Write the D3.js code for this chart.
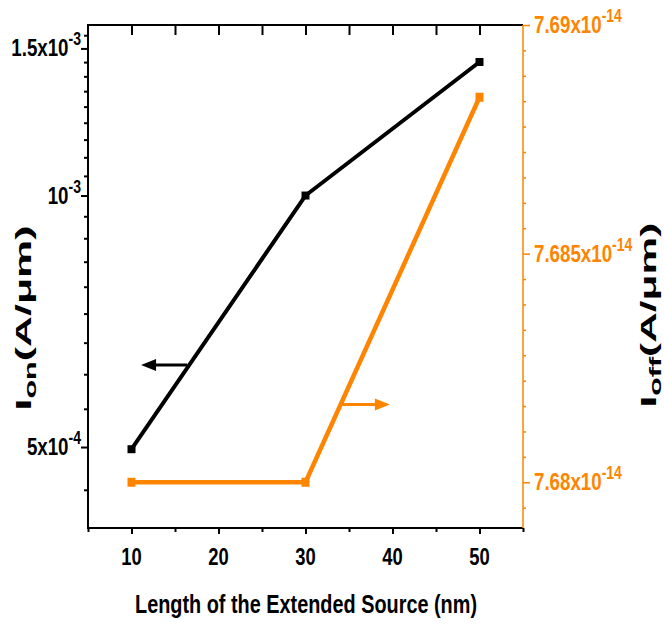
<!DOCTYPE html>
<html>
<head>
<meta charset="utf-8">
<script src="https://cdn.jsdelivr.net/npm/d3@7"></script>
<style>
  body { margin: 0; background: #fff; }
  text { font-family: "Liberation Sans", Arial, sans-serif; font-weight: bold; }
</style>
</head>
<body>
<div id="chart"></div>
<script>
// values
const lengths = [10, 30, 50];
const ionValues = [4.97e-4, 1.0e-3, 1.445e-3];
const ioffValues = [7.68e-14, 7.68e-14, 7.68842e-14];

const xTicks = [10, 20, 30, 40, 50];
const xMinorTicks = [5, 15, 25, 35, 45, 55];
const ionTicks = [5e-4, 1e-3, 1.5e-3];
const ionTickLabels = [['5x10', '-4'], ['10', '-3'], ['1.5x10', '-3']];
const ioffTicks = [7.68e-14, 7.685e-14, 7.69e-14];
const ioffTickLabels = [['7.68x10', '-14'], ['7.685x10', '-14'], ['7.69x10', '-14']];

// arrows pointing at the axis each curve belongs to: [start, tip]
const ionArrow = [[16.4, 6.27e-4], [11.1, 6.27e-4]];
const ioffArrow = [[34.25, 7.6817e-14], [39.7, 7.6817e-14]];

const BLACK = '#000';
const ORANGE = '#ff8400';

const width = 664, height = 624;
const margin = { top: 25, right: 141, bottom: 96, left: 88 };
const innerW = width - margin.left - margin.right;
const innerH = height - margin.top - margin.bottom;

const svg = d3.select('#chart').append('svg')
  .attr('width', width).attr('height', height)
  .attr('viewBox', `0 0 ${width} ${height}`);

const g = svg.append('g').attr('transform', `translate(${margin.left},${margin.top})`);

const x = d3.scaleLinear().domain([5, 55]).range([0, innerW]);
const yOn = d3.scaleLog().domain([4e-4, 1.6e-3]).range([innerH, 0]);
const yOff = d3.scaleLinear().domain([7.679e-14, 7.69e-14]).range([innerH, 0]);

// minor ticks: 8 between each pair of majors
const ionStep = 0.5e-3 / 9;
const ionMinor = d3.range(-2, 21).filter((i) => i % 9 !== 0)
  .map((i) => 5e-4 + i * ionStep)
  .filter((v) => v > 4e-4 && v < 1.6e-3);
const ioffStep = 0.005e-14 / 9;
const ioffMinor = d3.range(-2, 20).filter((i) => i % 9 !== 0)
  .map((i) => 7.68e-14 + i * ioffStep)
  .filter((v) => v > 7.679e-14 && v < 7.69e-14);

function styleAxis(sel, color, w) {
  sel.select('.domain').remove();
  sel.selectAll('.tick line').attr('stroke', color).attr('stroke-width', w);
  sel.selectAll('.tick text').remove();
}

// left axis
g.append('g').call(d3.axisLeft(yOn).tickValues(ionMinor).tickSize(4).tickFormat(''))
  .call(styleAxis, BLACK, 2);
g.append('g').call(d3.axisLeft(yOn).tickValues(ionTicks).tickSize(7).tickFormat(''))
  .call(styleAxis, BLACK, 2);

// bottom axis
g.append('g').attr('transform', `translate(0,${innerH})`)
  .call(d3.axisBottom(x).tickValues(xMinorTicks).tickSize(4).tickFormat(''))
  .call(styleAxis, BLACK, 2);
g.append('g').attr('transform', `translate(0,${innerH})`)
  .call(d3.axisBottom(x).tickValues(xTicks).tickSize(6).tickFormat(''))
  .call(styleAxis, BLACK, 2);

// top axis, ticks pointing inwards
g.append('g')
  .call(d3.axisTop(x).tickValues(xTicks.concat(xMinorTicks.slice(1, -1))).tickSize(-10).tickFormat(''))
  .call(styleAxis, BLACK, 2);

// right axis (orange)
g.append('g').attr('transform', `translate(${innerW},0)`)
  .call(d3.axisRight(yOff).tickValues(ioffMinor).tickSize(3).tickFormat(''))
  .call(styleAxis, ORANGE, 1.5);
g.append('g').attr('transform', `translate(${innerW},0)`)
  .call(d3.axisRight(yOff).tickValues(ioffTicks).tickSize(7).tickFormat(''))
  .call(styleAxis, ORANGE, 1.5);

// frame
g.append('line').attr('x1', 0).attr('x2', innerW).attr('y1', 0).attr('y2', 0)
  .attr('stroke', BLACK).attr('stroke-width', 2);
g.append('line').attr('x1', 0).attr('x2', innerW).attr('y1', innerH).attr('y2', innerH)
  .attr('stroke', BLACK).attr('stroke-width', 2);
g.append('line').attr('x1', 0).attr('x2', 0).attr('y1', -1).attr('y2', innerH + 1)
  .attr('stroke', BLACK).attr('stroke-width', 2);
g.append('line').attr('x1', innerW).attr('x2', innerW).attr('y1', 0).attr('y2', innerH)
  .attr('stroke', ORANGE).attr('stroke-width', 1.5);

// tick labels
const SQ = 0.78; // the reference type is condensed
function sciLabel(parent, px, py, base, exp, anchor, color) {
  const t = parent.append('text')
    .attr('transform', `translate(${px},${py}) scale(${SQ},1)`)
    .attr('text-anchor', anchor)
    .style('font-size', '24px')
    .attr('fill', color);
  t.append('tspan').text(base);
  t.append('tspan').attr('dy', -11).style('font-size', '18px').text(exp);
  return t;
}

ionTicks.forEach((v, i) => {
  sciLabel(g, -7, yOn(v) + 8, ionTickLabels[i][0], ionTickLabels[i][1], 'end', BLACK);
});
ioffTicks.forEach((v, i) => {
  sciLabel(g, innerW + 11, yOff(v) + 8, ioffTickLabels[i][0], ioffTickLabels[i][1], 'start', ORANGE);
});
xTicks.forEach((v) => {
  g.append('text')
    .attr('transform', `translate(${x(v)},${innerH + 37}) scale(0.8,1)`)
    .attr('text-anchor', 'middle')
    .style('font-size', '23px')
    .attr('fill', BLACK)
    .text(v);
});

// axis titles
svg.append('text')
  .attr('x', 306).attr('y', 613)
  .attr('text-anchor', 'middle')
  .attr('textLength', 342).attr('lengthAdjust', 'spacingAndGlyphs')
  .style('font-size', '25px')
  .text('Length of the Extended Source (nm)');

// rotated titles, scaled along their length to the span seen in the reference
function yTitle(px, cy, sub, span) {
  const t = svg.append('text')
    .attr('text-anchor', 'middle')
    .style('font-size', '28px');
  t.append('tspan').text('I');
  t.append('tspan').attr('dy', 6).style('font-size', '20px').text(sub);
  t.append('tspan').attr('dy', -6).text('(A/\u03bcm)');
  const w = t.node().getComputedTextLength();
  t.attr('transform', `translate(${px},${cy}) rotate(-90) scale(${span / w},0.8)`);
}
yTitle(31, 318, 'on', 185);
yTitle(656, 315, 'off', 185);

// curves
const lineOn = d3.line().x((d, i) => x(lengths[i])).y((d) => yOn(d));
const lineOff = d3.line().x((d, i) => x(lengths[i])).y((d) => yOff(d));

g.append('path').datum(ionValues).attr('d', lineOn)
  .attr('fill', 'none').attr('stroke', BLACK).attr('stroke-width', 4);
g.append('path').datum(ioffValues).attr('d', lineOff)
  .attr('fill', 'none').attr('stroke', ORANGE).attr('stroke-width', 4.5);

const mk = 8;
g.selectAll('rect.on').data(ionValues).enter().append('rect')
  .attr('class', 'on')
  .attr('x', (d, i) => x(lengths[i]) - mk / 2).attr('y', (d) => yOn(d) - mk / 2)
  .attr('width', mk).attr('height', mk).attr('fill', BLACK);
g.selectAll('rect.off').data(ioffValues).enter().append('rect')
  .attr('class', 'off')
  .attr('x', (d, i) => x(lengths[i]) - mk / 2).attr('y', (d) => yOff(d) - mk / 2 - 0.5)
  .attr('width', mk).attr('height', mk + 1).attr('fill', ORANGE);

// arrows
function arrow(pts, yScale, color) {
  const [s, t] = pts.map(([a, b]) => [x(a), yScale(b)]);
  const dir = Math.sign(t[0] - s[0]);
  const headLen = 15, headHalf = 6;
  g.append('line')
    .attr('x1', s[0]).attr('y1', s[1])
    .attr('x2', t[0] - dir * headLen + dir).attr('y2', t[1])
    .attr('stroke', color).attr('stroke-width', 3);
  g.append('path')
    .attr('d', `M${t[0]},${t[1]}L${t[0] - dir * headLen},${t[1] - headHalf}L${t[0] - dir * headLen},${t[1] + headHalf}Z`)
    .attr('fill', color);
}
arrow(ionArrow, yOn, BLACK);
arrow(ioffArrow, yOff, ORANGE);
</script>
</body>
</html>
